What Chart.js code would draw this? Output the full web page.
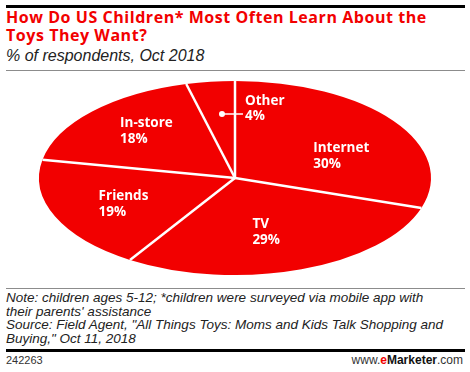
<!DOCTYPE html>
<html>
<head>
<meta charset="utf-8">
<script src="https://cdn.jsdelivr.net/npm/chart.js@4.4.1/dist/chart.umd.min.js"></script>
<style>
  body { margin: 0; width: 470px; height: 372px; background: #fff; position: relative; overflow: hidden;
         font-family: "Liberation Sans", Arial, sans-serif; }
  .bar { position: absolute; left: 6px; width: 459px; background: #000; }
  .rule { position: absolute; left: 6px; width: 459px; height: 1px; background: #8c8c8c; }
  .title { position: absolute; left: 6px; top: 8px; color: #f20000; font: bold 16px/18px "Open Sans", sans-serif; letter-spacing: 0.55px; }
  .sub { position: absolute; left: 6px; top: 47px; color: #222; font: italic 16px/18px "Liberation Sans", Arial, sans-serif; }
  .note { position: absolute; left: 6px; top: 291px; color: #222; font: italic 13.5px/13.7px "Liberation Sans", Arial, sans-serif; }
  .id { position: absolute; left: 6px; top: 354px; color: #333; font: 11px/12px "Liberation Sans", Arial, sans-serif; }
  .site { position: absolute; right: 7px; top: 354px; color: #333; font: 12px/12px "Liberation Sans", Arial, sans-serif; }
  .site b { color: #111; }
  .site .e { color: #f20000; }
  #wrap { position: absolute; left: 0; top: 72px; width: 470px; height: 215px; }
</style>
</head>
<body>
<div class="bar" style="top:5px;height:3px"></div>
<div class="title">How Do US Children* Most Often Learn About the<br>Toys They Want?</div>
<div class="sub">% of respondents, Oct 2018</div>
<div class="rule" style="top:70px"></div>
<div id="wrap"><canvas id="chart" width="470" height="215"></canvas></div>
<div class="rule" style="top:288px"></div>
<div class="note">Note: children ages 5-12; *children were surveyed via mobile app with<br>their parents' assistance<br>Source: Field Agent, "All Things Toys: Moms and Kids Talk Shopping and<br>Buying," Oct 11, 2018</div>
<div class="bar" style="top:349px;height:3px"></div>
<div class="id">242263</div>
<div class="site">www.<b class="e">e</b><b>Marketer</b>.com</div>
<script>
// données du graphique (sens horaire depuis le haut)
const categories = ['Internet', 'TV', 'Friends', 'In-store', 'Other'];
const values = [30, 29, 19, 18, 4];

const red = '#f20000';
const stretchX = 196 / 97; // le camembert est étiré en ellipse
// position des étiquettes, en fraction du rayon (x, y)
const labelPos = [[0.67, 0.39], [0.47, 0.59], [0.62, 0.69], [0.62, 0.70], [0.53, 0.665]];

const ellipse = {
  id: 'ellipse',
  beforeDatasetsDraw(chart) {
    const a = chart.getDatasetMeta(0).data[0];
    const ctx = chart.ctx;
    ctx.save();
    ctx.translate(a.x, a.y);
    ctx.scale(stretchX, 1);
    ctx.translate(-a.x, -a.y);
  },
  afterDatasetsDraw(chart) {
    const ctx = chart.ctx;
    ctx.restore();
    const meta = chart.getDatasetMeta(0);

    // lignes de séparation
    ctx.save();
    ctx.strokeStyle = '#fff';
    ctx.lineWidth = 2.5;
    meta.data.forEach(a => {
      const rx = a.outerRadius * stretchX, ry = a.outerRadius;
      ctx.beginPath();
      ctx.moveTo(a.x, a.y);
      ctx.lineTo(a.x + rx * Math.cos(a.startAngle), a.y + ry * Math.sin(a.startAngle));
      ctx.stroke();
    });

    // étiquettes
    ctx.fillStyle = '#fff';
    ctx.font = 'bold 13.5px "Open Sans", sans-serif';
    ctx.textBaseline = 'middle';
    ctx.textAlign = 'left';
    meta.data.forEach((a, i) => {
      const mid = (a.startAngle + a.endAngle) / 2;
      const rx = a.outerRadius * stretchX, ry = a.outerRadius;
      const x = a.x + rx * Math.cos(mid) * labelPos[i][0];
      const y = a.y + ry * Math.sin(mid) * labelPos[i][1];
      const l1 = categories[i], l2 = values[i] + '%';
      if (i === categories.length - 1) {
        // petite tranche : point + trait vers le texte
        ctx.beginPath();
        ctx.arc(x, y, 3, 0, Math.PI * 2);
        ctx.fill();
        ctx.lineWidth = 1.5;
        ctx.beginPath();
        ctx.moveTo(x, y);
        ctx.lineTo(x + 21, y);
        ctx.stroke();
        ctx.fillText(l1, x + 23, y - 13);
        ctx.fillText(l2, x + 23, y + 2);
      } else {
        const w = Math.max(ctx.measureText(l1).width, ctx.measureText(l2).width);
        ctx.fillText(l1, x - w / 2, y - 8);
        ctx.fillText(l2, x - w / 2, y + 8);
      }
    });
    ctx.restore();
  }
};

new Chart(document.getElementById('chart'), {
  type: 'pie',
  data: {
    labels: categories,
    datasets: [{
      data: values,
      backgroundColor: red,
      borderWidth: 0
    }]
  },
  options: {
    responsive: false,
    animation: false,
    layout: { padding: { top: 9, bottom: 12, left: 40, right: 40 } },
    plugins: {
      legend: { display: false },
      tooltip: { enabled: false }
    }
  },
  plugins: [ellipse]
});
</script>
</body>
</html>
